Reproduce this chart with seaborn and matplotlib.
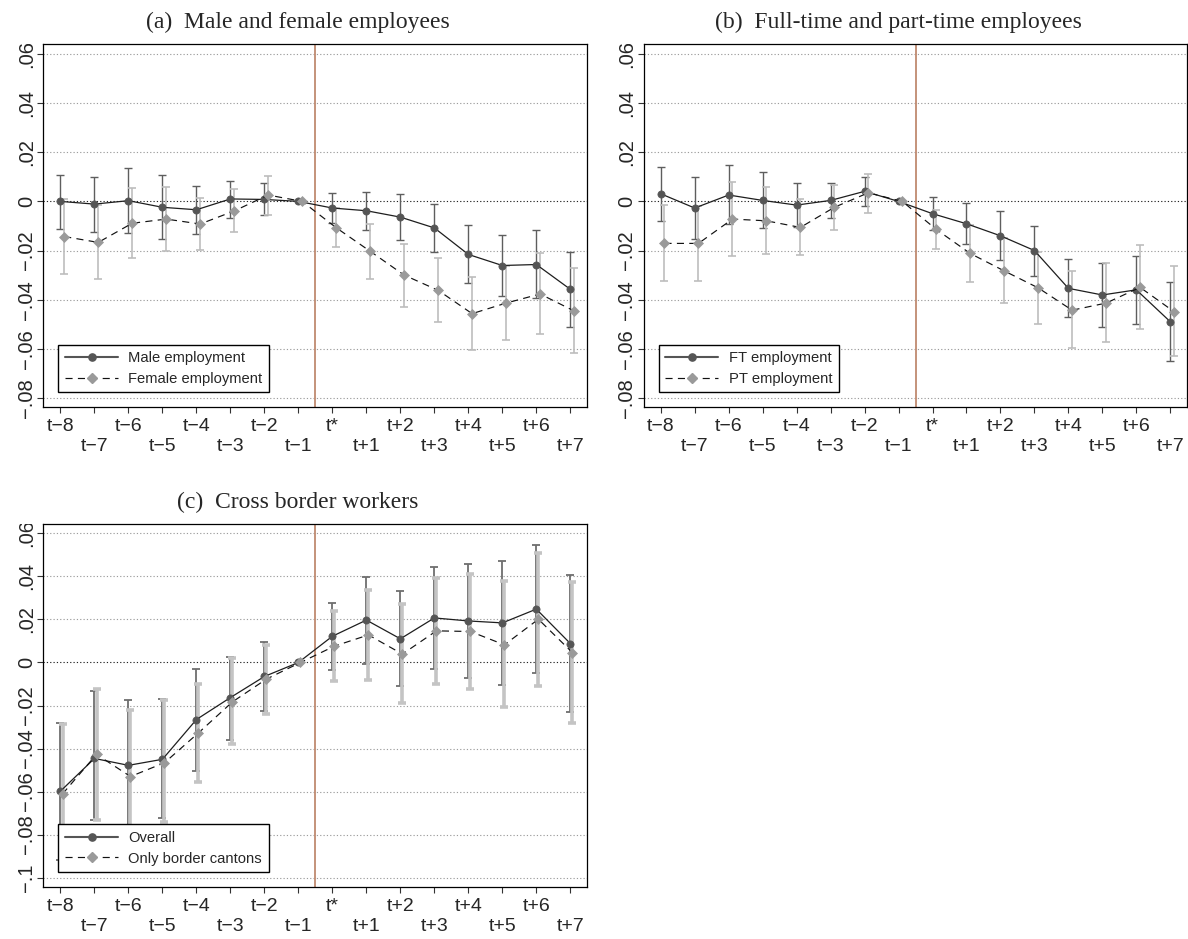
import numpy as np
import matplotlib
matplotlib.use("Agg")
import matplotlib.pyplot as plt
from matplotlib import font_manager
from matplotlib.lines import Line2D
from matplotlib.transforms import Bbox, TransformedBbox
import seaborn as sns

# ---------------------------------------------------------------- data
periods = ["t\u22128", "t\u22127", "t\u22126", "t\u22125", "t\u22124", "t\u22123",
           "t\u22122", "t\u22121", "t*", "t+1", "t+2", "t+3", "t+4", "t+5",
           "t+6", "t+7"]
nan = np.nan

# (a) male / female employment
male_est = [0.0000, -0.0011, 0.0003, -0.0024, -0.0034, 0.0010, 0.0008, 0.0000,
            -0.0027, -0.0038, -0.0064, -0.0108, -0.0216, -0.0261, -0.0257, -0.0358]
male_lo = [-0.0112, -0.0123, -0.0127, -0.0154, -0.0134, -0.0066, -0.0057, nan,
           -0.0088, -0.0115, -0.0157, -0.0208, -0.0334, -0.0385, -0.0392, -0.0511]
male_hi = [0.0108, 0.0099, 0.0134, 0.0108, 0.0064, 0.0082, 0.0074, nan,
           0.0034, 0.0039, 0.0031, -0.0009, -0.0096, -0.0135, -0.0118, -0.0204]

female_est = [-0.0143, -0.0167, -0.0089, -0.0072, -0.0092, -0.0039, 0.0026, 0.0000,
              -0.0107, -0.0203, -0.0300, -0.0362, -0.0457, -0.0414, -0.0377, -0.0446]
female_lo = [-0.0297, -0.0317, -0.0230, -0.0200, -0.0196, -0.0126, -0.0054, nan,
             -0.0186, -0.0316, -0.0428, -0.0493, -0.0606, -0.0564, -0.0539, -0.0618]
female_hi = [0.0011, -0.0015, 0.0054, 0.0058, 0.0014, 0.0050, 0.0103, nan,
             -0.0028, -0.0091, -0.0173, -0.0230, -0.0307, -0.0264, -0.0212, -0.0270]

# (b) full-time / part-time employment
ft_est = [0.0031, -0.0027, 0.0026, 0.0004, -0.0015, 0.0004, 0.0041, 0.0000,
          -0.0050, -0.0091, -0.0140, -0.0200, -0.0354, -0.0381, -0.0360, -0.0490]
ft_lo = [-0.0080, -0.0152, -0.0094, -0.0107, -0.0105, -0.0068, -0.0019, nan,
         -0.0118, -0.0174, -0.0238, -0.0303, -0.0469, -0.0512, -0.0498, -0.0648]
ft_hi = [0.0141, 0.0099, 0.0147, 0.0118, 0.0075, 0.0076, 0.0101, nan,
         0.0018, -0.0007, -0.0038, -0.0099, -0.0234, -0.0250, -0.0222, -0.0329]

pt_est = [-0.0171, -0.0171, -0.0072, -0.0079, -0.0106, -0.0024, 0.0035, 0.0000,
          -0.0114, -0.0212, -0.0283, -0.0352, -0.0443, -0.0414, -0.0350, -0.0449]
pt_lo = [-0.0324, -0.0324, -0.0223, -0.0216, -0.0220, -0.0117, -0.0046, nan,
         -0.0195, -0.0327, -0.0415, -0.0498, -0.0598, -0.0572, -0.0518, -0.0629]
pt_hi = [-0.0015, -0.0018, 0.0078, 0.0059, 0.0008, 0.0068, 0.0112, nan,
         -0.0033, -0.0097, -0.0151, -0.0206, -0.0283, -0.0249, -0.0176, -0.0263]

# (c) cross border workers
overall_est = [-0.0598, -0.0446, -0.0478, -0.0450, -0.0265, -0.0163, -0.0065, 0.0000,
               0.0122, 0.0197, 0.0110, 0.0207, 0.0193, 0.0184, 0.0248, 0.0088]
overall_lo = [-0.0917, -0.0732, -0.0780, -0.0724, -0.0502, -0.0358, -0.0224, nan,
              -0.0036, -0.0005, -0.0111, -0.0029, -0.0071, -0.0105, -0.0051, -0.0231]
overall_hi = [-0.0279, -0.0133, -0.0176, -0.0172, -0.0029, 0.0026, 0.0093, nan,
              0.0277, 0.0399, 0.0330, 0.0446, 0.0460, 0.0471, 0.0546, 0.0406]

border_est = [-0.0611, -0.0427, -0.0530, -0.0466, -0.0327, -0.0183, -0.0077, 0.0000,
              0.0076, 0.0128, 0.0039, 0.0147, 0.0144, 0.0082, 0.0201, 0.0046]
border_lo = [-0.0936, -0.0733, -0.0837, -0.0740, -0.0554, -0.0379, -0.0240, nan,
             -0.0084, -0.0082, -0.0189, -0.0099, -0.0124, -0.0207, -0.0107, -0.0282]
border_hi = [-0.0286, -0.0121, -0.0223, -0.0175, -0.0098, 0.0020, 0.0079, nan,
             0.0237, 0.0336, 0.0272, 0.0392, 0.0413, 0.0378, 0.0509, 0.0375]

yticks_ab = [-0.08, -0.06, -0.04, -0.02, 0.0, 0.02, 0.04, 0.06]
ylabels_ab = ["\u2212.08", "\u2212.06", "\u2212.04", "\u2212.02", "0", ".02", ".04", ".06"]
yticks_c = [-0.10, -0.08, -0.06, -0.04, -0.02, 0.0, 0.02, 0.04, 0.06]
ylabels_c = ["\u2212.1", "\u2212.08", "\u2212.06", "\u2212.04", "\u2212.02", "0", ".02", ".04", ".06"]

titles = ["(a)  Male and female employees",
          "(b)  Full-time and part-time employees",
          "(c)  Cross border workers"]
legend_a = ["Male employment", "Female employment"]
legend_b = ["FT employment", "PT employment"]
legend_c = ["Overall", "Only border cantons"]

# ---------------------------------------------------------------- style
sns.set_style("ticks")
plt.rcParams["font.family"] = ["Liberation Sans", "DejaVu Sans"]
plt.rcParams["axes.linewidth"] = 0.9
plt.rcParams["axes.edgecolor"] = "black"

installed = {f.name for f in font_manager.fontManager.ttflist}
if "Liberation Sans Narrow" in installed:
    # the narrow cut has no minus sign, so it comes from the regular cut
    ytick_font = dict(family=["Liberation Sans Narrow", "Liberation Sans"], size=17)
else:
    ytick_font = dict(family=["Liberation Sans"], size=14.5)

DARK = "#555555"
DARK_CI = "#5e5e5e"
LIGHT = "#9a9a9a"
LIGHT_CI = "#bdbdbd"
EVENT = "#bf8a70"

fig = plt.figure(figsize=(11.88, 9.39), dpi=100)

x = np.arange(len(periods))


def draw_ci(ax, xpos, lo, hi, color, lw, capsize):
    lo = np.asarray(lo, float)
    hi = np.asarray(hi, float)
    ok = ~np.isnan(lo)
    mid = (lo[ok] + hi[ok]) / 2
    ax.errorbar(xpos[ok], mid, yerr=[mid - lo[ok], hi[ok] - mid], fmt="none",
                ecolor=color, elinewidth=lw, capsize=capsize, capthick=lw,
                zorder=2)


def panel(rect, title, s1, s2, names, yticks, ylabels, ylim, offset,
          ci_widths, ci_colors):
    ax = fig.add_axes(rect)
    ax.set_xlim(-0.5, len(periods) - 0.5)
    ax.set_ylim(*ylim)

    # grid and reference lines
    for v in yticks:
        ax.axhline(v, color="#9c9c9c" if v != 0 else "#222222",
                   lw=0.8, ls=(0, (1.1, 1.9)), zorder=0.5)
    ax.axvline(7.5, color=EVENT, lw=1.3, zorder=1)

    x2 = x + offset
    draw_ci(ax, x, s1[1], s1[2], ci_colors[0], ci_widths[0], 2.7)
    draw_ci(ax, x2, s2[1], s2[2], ci_colors[1], ci_widths[1], 2.7)

    sns.lineplot(x=x, y=s1[0], ax=ax, color="#1e1e1e", lw=0.9,
                 marker="o", markersize=5.2, markerfacecolor=DARK,
                 markeredgecolor=DARK, markeredgewidth=0.5,
                 legend=False, zorder=3)
    sns.lineplot(x=x2, y=s2[0], ax=ax, color="#111111", lw=0.85,
                 linestyle=(0, (6, 4.5)), marker="D", markersize=4.8,
                 markerfacecolor=LIGHT, markeredgecolor=LIGHT,
                 markeredgewidth=0.5, legend=False, zorder=4)

    # axes text
    ax.set_xticks(x[::2], periods[::2])
    ax.set_xticks(x[1::2], periods[1::2], minor=True)
    ax.tick_params(axis="x", which="both", length=4.3, width=0.8,
                   color="#333333", labelsize=14, direction="out")
    ax.tick_params(axis="x", which="major", pad=4.0)
    ax.tick_params(axis="x", which="minor", pad=18.0)
    ax.set_yticks(yticks, ylabels, rotation=90, va="center", **ytick_font)
    ax.tick_params(axis="y", length=4.0, width=0.8, color="#333333", pad=1.5)
    ax.set_xlabel("")
    ax.set_ylabel("")
    for side in ["top", "right", "left", "bottom"]:
        ax.spines[side].set_visible(True)

    # the topmost y label is cut at the plot region's upper edge
    top = rect[1] + rect[3]
    lbl = ax.yaxis.get_major_ticks()[-1].label1
    lbl.set_clip_box(TransformedBbox(Bbox([[0, 0], [1, top]]), fig.transFigure))
    lbl.set_clip_on(True)

    ax.set_title(title, family="Liberation Serif", fontsize=17, x=0.468,
                 pad=12)

    handles = [
        Line2D([], [], color=DARK, lw=1.5, marker="o", markersize=5.2,
               markerfacecolor=DARK, markeredgecolor=DARK),
        Line2D([], [], color="#111111", lw=0.85, ls=(0, (6, 4.5)), marker="D",
               markersize=4.8, markerfacecolor=LIGHT, markeredgecolor=LIGHT),
    ]
    leg = ax.legend(handles, names, loc="lower left",
                    bbox_to_anchor=(0.0276, 0.04), borderaxespad=0,
                    fontsize=10.6, handlelength=3.6, handletextpad=0.7,
                    borderpad=0.45, labelspacing=0.45, fancybox=False,
                    framealpha=1, edgecolor="black")
    leg.get_frame().set_linewidth(1.0)
    leg.set_zorder(10)
    return ax


panel([0.0366, 0.5666, 0.4578, 0.3863], titles[0],
      (male_est, male_lo, male_hi), (female_est, female_lo, female_hi),
      legend_a, yticks_ab, ylabels_ab, (-0.0837, 0.0640), 0.11,
      (1.0, 1.2), (DARK_CI, LIGHT_CI))

panel([0.5419, 0.5666, 0.4575, 0.3863], titles[1],
      (ft_est, ft_lo, ft_hi), (pt_est, pt_lo, pt_hi),
      legend_b, yticks_ab, ylabels_ab, (-0.0837, 0.0640), 0.11,
      (1.0, 1.2), (DARK_CI, LIGHT_CI))

panel([0.0366, 0.0557, 0.4578, 0.3859], titles[2],
      (overall_est, overall_lo, overall_hi), (border_est, border_lo, border_hi),
      legend_c, yticks_c, ylabels_c, (-0.1042, 0.0642), 0.06,
      (1.3, 2.6), ("#6e6e6e", "#c4c4c4"))

fig.savefig("out.png", dpi=100, facecolor="white")
